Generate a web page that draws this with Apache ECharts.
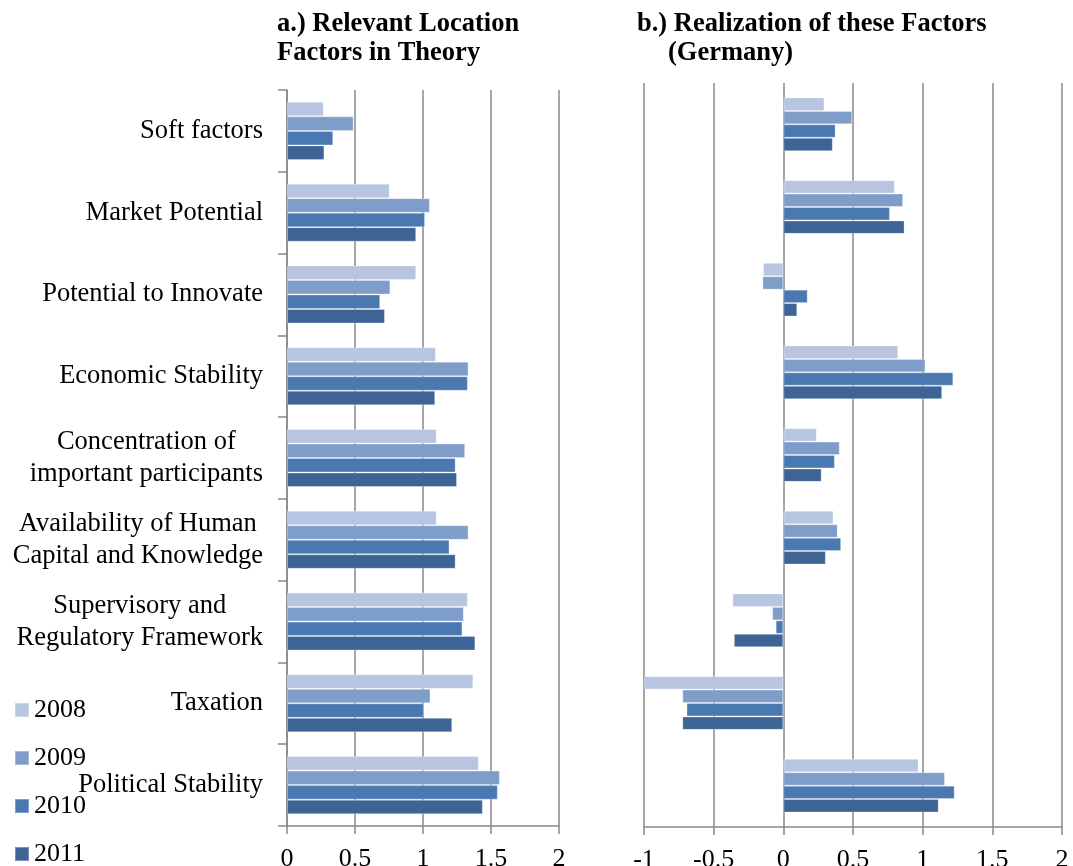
<!DOCTYPE html>
<html>
<head>
<meta charset="utf-8">
<script src="https://cdn.jsdelivr.net/npm/echarts@6/dist/echarts.min.js"></script>
<style>
  html, body { margin: 0; padding: 0; background: #fff; }
  #chart { width: 1073px; height: 866px; }
</style>
</head>
<body>
<div id="chart"></div>
<script>
// factors, top to bottom
const categories = [
  "Soft factors",
  "Market Potential",
  "Potential to Innovate",
  "Economic Stability",
  "Concentration of\nimportant participants",
  "Availability of Human\nCapital and Knowledge",
  "Supervisory and\nRegulatory Framework",
  "Taxation",
  "Political Stability",
];
const years = ["2008", "2009", "2010", "2011"];

// a.) relevance in theory
const theory2008 = [0.27, 0.755, 0.95, 1.095, 1.1, 1.1, 1.33, 1.37, 1.41];
const theory2009 = [0.49, 1.05, 0.76, 1.335, 1.31, 1.335, 1.3, 1.055, 1.565];
const theory2010 = [0.34, 1.015, 0.685, 1.33, 1.24, 1.195, 1.29, 1.005, 1.55];
const theory2011 = [0.275, 0.95, 0.72, 1.09, 1.25, 1.24, 1.385, 1.215, 1.44];

// b.) realization in Germany
const germany2008 = [0.295, 0.8, -0.145, 0.825, 0.24, 0.36, -0.365, -1.0, 0.97];
const germany2009 = [0.495, 0.86, -0.15, 1.02, 0.405, 0.39, -0.08, -0.725, 1.16];
const germany2010 = [0.375, 0.765, 0.175, 1.22, 0.37, 0.415, -0.055, -0.695, 1.23];
const germany2011 = [0.355, 0.87, 0.1, 1.14, 0.275, 0.305, -0.355, -0.725, 1.115];

const theoryTicks = [0, 0.5, 1, 1.5, 2];
const germanyTicks = [-1, -0.5, 0, 0.5, 1, 1.5, 2];

const colors = ["#b7c5e0", "#7f9dc9", "#4a79b1", "#3d6494"];
const font = "Liberation Serif";
const gridColor = "#888888";

const theoryData = [theory2008, theory2009, theory2010, theory2011];
const germanyData = [germany2008, germany2009, germany2010, germany2011];

const myChart = echarts.init(document.getElementById("chart"));

const barStyle = (i) => ({
  color: colors[i],
  borderColor: "rgba(255,255,255,0.3)",
  borderWidth: 1,
});

const series = [];
years.forEach((y, i) => {
  series.push({
    name: y,
    type: "bar",
    xAxisIndex: 0,
    yAxisIndex: 0,
    data: theoryData[i],
    barGap: "0%",
    barCategoryGap: "29%",
    itemStyle: barStyle(i),
  });
});
years.forEach((y, i) => {
  series.push({
    name: y,
    type: "bar",
    xAxisIndex: 1,
    yAxisIndex: 1,
    data: germanyData[i],
    barGap: "0%",
    barCategoryGap: "35%",
    itemStyle: barStyle(i),
  });
});

const titleStyle = { fontFamily: font, fontWeight: "bold", fontSize: 26.5, lineHeight: 29, color: "#000" };

myChart.setOption({
  animation: false,
  backgroundColor: "#fff",
  title: [
    { text: "a.) Relevant Location\nFactors in Theory", left: 277, top: 10, padding: 0, textStyle: titleStyle },
    { text: "b.) Realization of these Factors", left: 637, top: 10, padding: 0, textStyle: titleStyle },
    { text: "(Germany)", left: 668, top: 39, padding: 0, textStyle: titleStyle },
  ],
  legend: {
    data: years,
    orient: "vertical",
    left: 9,
    top: 692,
    height: 220,
    itemWidth: 14,
    itemHeight: 14,
    itemGap: 22,
    icon: "rect",
    selectedMode: false,
    textStyle: { fontFamily: font, fontSize: 26, color: "#000" },
  },
  grid: [
    { left: 287, right: 514, top: 90, bottom: 40, outerBoundsMode: "none" },
    { left: 644, right: 11, top: 83, bottom: 39, outerBoundsMode: "none" },
  ],
  xAxis: [
    {
      gridIndex: 0,
      type: "value",
      min: theoryTicks[0],
      max: theoryTicks[theoryTicks.length - 1],
      interval: 0.5,
      axisLine: { show: true, lineStyle: { color: gridColor, width: 1.5 } },
      axisTick: { show: true, length: 8, lineStyle: { color: gridColor, width: 1.5 } },
      splitLine: { show: true, lineStyle: { color: gridColor, width: 1.5 } },
      axisLabel: { fontFamily: font, fontSize: 26, color: "#000", margin: 20 },
    },
    {
      gridIndex: 1,
      type: "value",
      min: germanyTicks[0],
      max: germanyTicks[germanyTicks.length - 1],
      interval: 0.5,
      axisLine: { show: true, onZero: false, lineStyle: { color: gridColor, width: 1.5 } },
      axisTick: { show: true, length: 8, lineStyle: { color: gridColor, width: 1.5 } },
      splitLine: { show: true, lineStyle: { color: gridColor, width: 1.5 } },
      axisLabel: { fontFamily: font, fontSize: 26, color: "#000", margin: 20, showMaxLabel: true },
    },
  ],
  yAxis: [
    {
      gridIndex: 0,
      type: "category",
      inverse: true,
      data: categories,
      axisLine: { show: true, lineStyle: { color: gridColor, width: 1.5 } },
      axisTick: { show: true, length: 9, lineStyle: { color: gridColor, width: 1.5 } },
      axisLabel: {
        margin: 24,
        align: "right",
        color: "#000",
        fontFamily: font,
        fontSize: 26.5,
        lineHeight: 32,
        // each line centered inside the label block
        formatter: (v) => v.split("\n").map((l) => "{c|" + l + "}").join("\n"),
        rich: { c: { align: "center", fontFamily: font, fontSize: 26.5, lineHeight: 32, color: "#000" } },
      },
    },
    {
      gridIndex: 1,
      type: "category",
      inverse: true,
      data: categories,
      axisLine: { show: false },
      axisTick: { show: false },
      axisLabel: { show: false },
    },
  ],
  series: series,
});
</script>
</body>
</html>
